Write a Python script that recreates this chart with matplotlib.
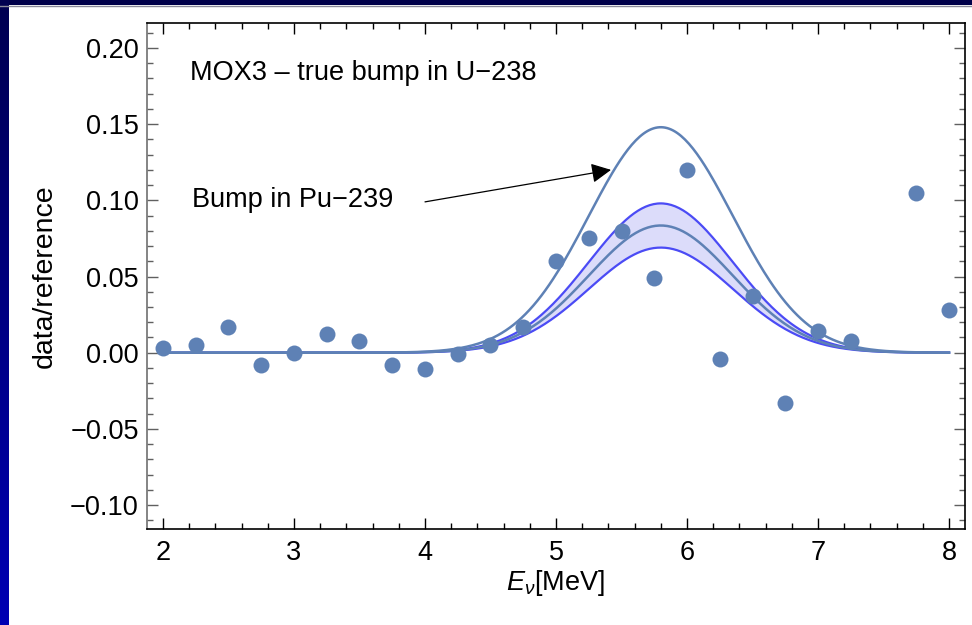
import matplotlib.pyplot as plt
import numpy as np
from matplotlib.ticker import MultipleLocator

plt.rcParams['font.family'] = ['Liberation Sans', 'DejaVu Sans']
plt.rcParams['mathtext.fontset'] = 'custom'
plt.rcParams['mathtext.it'] = 'Liberation Sans:italic'
plt.rcParams['mathtext.rm'] = 'Liberation Sans'

# measured ratio points
energy = [2.0, 2.25, 2.5, 2.75, 3.0, 3.25, 3.5, 3.75, 4.0, 4.25, 4.5, 4.75,
          5.0, 5.25, 5.5, 5.75, 6.0, 6.25, 6.5, 6.75, 7.0, 7.25, 7.75, 8.0]
ratio = [0.003, 0.005, 0.017, -0.008, 0.000, 0.012, 0.008, -0.008, -0.011, -0.001, 0.005, 0.017,
         0.060, 0.075, 0.080, 0.049, 0.120, -0.004, 0.037, -0.033, 0.014, 0.008, 0.105, 0.028]

# bump model: gaussian peak heights, centre and width (MeV)
bump_center = 5.8
bump_sigma = 0.55
amp_pu239 = 0.148
amp_fit = 0.0835
amp_fit_hi = 0.098
amp_fit_lo = 0.069

POINT_COLOR = '#5e81b5'
BAND_COLOR = '#4b4bf5'
FILL_COLOR = '#dcdcfa'
FS = 19.5


def bump(e, amp):
    return amp * np.exp(-(e - bump_center) ** 2 / (2 * bump_sigma ** 2))


fig = plt.figure(figsize=(9.72, 6.25), dpi=100)
fig.patch.set_facecolor('white')

# slide-style frame: dark bar on top, blue gradient strip on the left
top_bar = fig.add_axes([0, 1 - 5 / 625, 1, 5 / 625])
top_bar.set_facecolor('#00004a')
top_bar.set_xticks([])
top_bar.set_yticks([])
for s in top_bar.spines.values():
    s.set_visible(False)
fig.add_artist(plt.Line2D([0, 1], [1 - 6 / 625, 1 - 6 / 625], color='#8a8a9a', lw=1))

left_bar = fig.add_axes([0, 0, 8 / 972, 1])
grad = np.linspace(0, 1, 256).reshape(-1, 1)
left_bar.imshow(grad, aspect='auto', origin='upper',
                cmap=plt.matplotlib.colors.LinearSegmentedColormap.from_list(
                    'edge', ['#000050', '#0000b4']))
left_bar.axis('off')

ax = fig.add_axes([147 / 972, 96 / 625, 818 / 972, 506 / 625])

e = np.linspace(2, 8, 400)
ax.fill_between(e, bump(e, amp_fit_lo), bump(e, amp_fit_hi), color=FILL_COLOR, lw=0)
ax.plot(e, bump(e, amp_fit_hi), color=BAND_COLOR, lw=1.6)
ax.plot(e, bump(e, amp_fit_lo), color=BAND_COLOR, lw=1.6)
ax.plot(e, bump(e, amp_fit), color=POINT_COLOR, lw=1.8)
ax.plot(e, bump(e, amp_pu239), color=POINT_COLOR, lw=1.8)
ax.plot(energy, ratio, 'o', color=POINT_COLOR, ms=11.5, mec='none', zorder=5)

ax.set_xlim(1.878, 8.122)
ax.set_ylim(-0.1157, 0.2164)

ax.xaxis.set_major_locator(MultipleLocator(1))
ax.xaxis.set_minor_locator(MultipleLocator(0.2))
ax.yaxis.set_major_locator(MultipleLocator(0.05))
ax.yaxis.set_minor_locator(MultipleLocator(0.01))
ax.yaxis.set_major_formatter(plt.FuncFormatter(lambda v, p: f'{v:.2f}'.replace('-', '\u2212')))
ax.tick_params(which='both', direction='in', top=True, right=True, labelsize=FS, width=1)
ax.tick_params(which='major', length=8)
ax.tick_params(which='minor', length=4)
ax.tick_params(axis='y', which='both', color='#606060')
ax.tick_params(axis='x', pad=8)
ax.tick_params(axis='y', pad=6)
for side in ['top', 'right', 'bottom']:
    ax.spines[side].set_color('black')
ax.spines['left'].set_color('#707070')
for s in ax.spines.values():
    s.set_linewidth(1.2)

ax.set_xlabel(r'$E_\nu$[MeV]', fontsize=FS, labelpad=1)
ax.set_ylabel('data/reference', fontsize=20.5, labelpad=9)

ax.text(2.21, 0.1836, 'MOX3 \u2013 true bump in U\u2212238', fontsize=FS, va='center', ha='left')
ax.text(2.22, 0.100, 'Bump in Pu\u2212239', fontsize=FS, va='center', ha='left')
ax.annotate('', xy=(5.42, 0.120), xytext=(4.0, 0.099),
            arrowprops=dict(arrowstyle='-|>', color='black', lw=0.9,
                            mutation_scale=30, shrinkA=0, shrinkB=0))

fig.savefig('out.png', dpi=100)
